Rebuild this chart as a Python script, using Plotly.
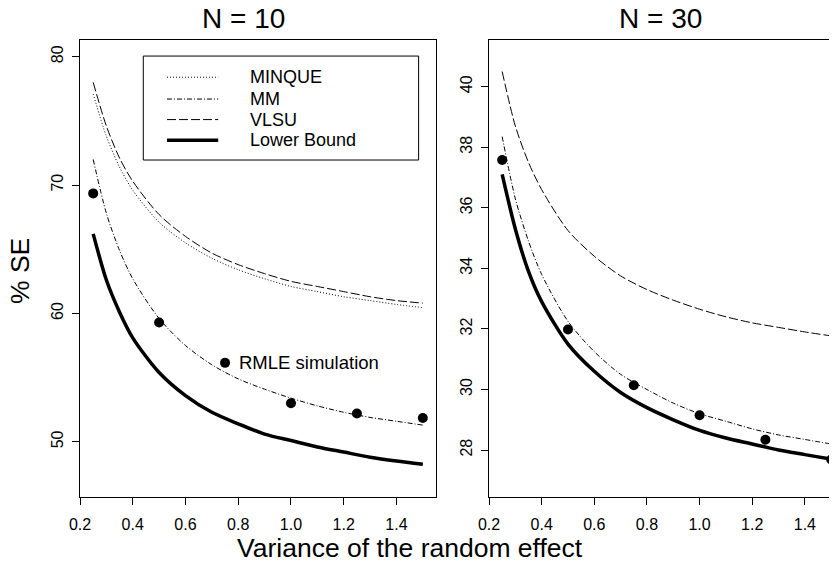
import plotly.graph_objects as go

# variance of the random effect
var_grid = [0.25, 0.30, 0.35, 0.40, 0.50, 0.60, 0.70, 0.80, 0.90, 1.00, 1.10, 1.20, 1.30, 1.40, 1.50]
var_sim = [0.25, 0.50, 0.75, 1.00, 1.25, 1.50]

# N = 10
minque_10 = [77.1, 73.8, 71.4, 69.6, 67.1, 65.5, 64.3, 63.4, 62.7, 62.1, 61.7, 61.3, 61.0, 60.7, 60.45]
mm_10 = [72.0, 67.8, 64.9, 62.7, 59.6, 57.5, 56.0, 54.9, 54.1, 53.4, 52.8, 52.3, 51.9, 51.6, 51.3]
vlsu_10 = [78.0, 74.6, 72.1, 70.3, 67.7, 66.0, 64.7, 63.8, 63.1, 62.5, 62.1, 61.7, 61.3, 61.0, 60.8]
lower_10 = [66.2, 62.6, 60.1, 58.1, 55.4, 53.6, 52.3, 51.4, 50.6, 50.1, 49.6, 49.2, 48.8, 48.5, 48.25]
rmle_10 = [69.35, 59.3, 56.15, 53.0, 52.2, 51.85]

# N = 30
mm_30 = [38.35, 36.3, 34.9, 33.8, 32.25, 31.25, 30.5, 30.0, 29.55, 29.2, 28.95, 28.7, 28.5, 28.35, 28.2]
vlsu_30 = [40.5, 38.7, 37.5, 36.6, 35.25, 34.4, 33.75, 33.3, 32.95, 32.65, 32.4, 32.2, 32.05, 31.9, 31.77]
lower_30 = [37.1, 35.3, 33.9, 32.9, 31.5, 30.6, 29.9, 29.4, 29.0, 28.65, 28.4, 28.2, 28.0, 27.85, 27.7]
rmle_30 = [37.58, 31.98, 30.14, 29.15, 28.34, 27.69]

legend_names = ["MINQUE", "MM", "VLSU", "Lower Bound"]

FONT = "Liberation Sans, Arial, sans-serif"
styles = {
    "MINQUE": dict(color="black", width=1, dash="1px,2px"),
    "MM": dict(color="black", width=1, dash="5px,2px,1px,2px"),
    "VLSU": dict(color="black", width=1, dash="9px,3px"),
    "Lower Bound": dict(color="black", width=3.5),
}

fig = go.Figure()

def add_curve(y, name, xa, ya):
    fig.add_trace(go.Scatter(x=var_grid, y=y, mode="lines", name=name,
                             line=dict(shape="spline", smoothing=0.8, **styles[name]),
                             xaxis=xa, yaxis=ya, showlegend=False))

add_curve(minque_10, "MINQUE", "x", "y")
add_curve(mm_10, "MM", "x", "y")
add_curve(vlsu_10, "VLSU", "x", "y")
add_curve(lower_10, "Lower Bound", "x", "y")
fig.add_trace(go.Scatter(x=var_sim, y=rmle_10, mode="markers", name="RMLE simulation",
                         marker=dict(color="black", size=10), cliponaxis=False,
                         xaxis="x", yaxis="y", showlegend=False))

add_curve(mm_30, "MM", "x2", "y2")
add_curve(vlsu_30, "VLSU", "x2", "y2")
add_curve(lower_30, "Lower Bound", "x2", "y2")
fig.add_trace(go.Scatter(x=var_sim, y=rmle_30, mode="markers", name="RMLE simulation",
                         marker=dict(color="black", size=10), cliponaxis=False,
                         xaxis="x2", yaxis="y2", showlegend=False))

axis_common = dict(showgrid=False, zeroline=False, showline=True, linecolor="black", linewidth=1,
                   ticks="outside", ticklen=7, tickcolor="black", automargin=False,
                   tickfont=dict(family=FONT, size=16, color="black"))
xticks = [0.2, 0.4, 0.6, 0.8, 1.0, 1.2, 1.4]

# the page body adds an 8px margin, so the figure is 8px smaller than the window
fig.update_layout(
    width=829, height=556,
    margin=dict(l=72, r=0, t=32, b=67),
    paper_bgcolor="white", plot_bgcolor="white",
    xaxis=dict(domain=[0, 0.4703], range=[0.2, 1.55], tickvals=xticks, tickformat=".1f",
               mirror=True, ticklabelstandoff=6, **axis_common),
    yaxis=dict(domain=[0, 1], range=[45.7, 81.3], tickvals=[50, 60, 70, 80], tickangle=-90,
               mirror=True, ticklabelstandoff=3, **axis_common),
    xaxis2=dict(domain=[0.5403, 1], range=[0.2, 1.522], tickvals=xticks, tickformat=".1f",
                mirror=True, anchor="y2", ticklabelstandoff=6, **axis_common),
    yaxis2=dict(domain=[0, 1], range=[26.45, 41.54], tickvals=[28, 30, 32, 34, 36, 38, 40],
                tickangle=-90, anchor="x2", ticklabelstandoff=3, **axis_common),
    showlegend=False,
)

# hand-drawn legend box inside the left panel
fig.add_shape(type="rect", xref="x", yref="y", x0=0.44, x1=1.484, y0=71.95, y1=80.05,
              line=dict(color="black", width=1), fillcolor="white", layer="above")
leg_y = [78.4, 76.7, 75.1, 73.5]
for name, yy in zip(legend_names, leg_y):
    fig.add_shape(type="line", xref="x", yref="y", x0=0.53, x1=0.724, y0=yy, y1=yy,
                  line=styles[name], layer="above")
    fig.add_annotation(x=0.838, y=yy, xref="x", yref="y", text=name, showarrow=False,
                       xanchor="left", yanchor="middle",
                       font=dict(family=FONT, size=18, color="black"))

fig.add_annotation(x=0.795, y=56.15, xref="x", yref="y", text="RMLE simulation", showarrow=False,
                   xanchor="left", yanchor="middle", font=dict(family=FONT, size=18.5, color="black"))

# panel titles and shared axis labels
title_font = dict(family=FONT, size=28, color="black")
label_font = dict(family=FONT, size=26.5, color="black")
fig.add_annotation(x=0.2164, y=1.0475, xref="paper", yref="paper", text="N = 10", showarrow=False,
                   xanchor="center", yanchor="middle", font=title_font)
fig.add_annotation(x=0.7662, y=1.0475, xref="paper", yref="paper", text="N = 30", showarrow=False,
                   xanchor="center", yanchor="middle", font=title_font)
fig.add_annotation(x=-0.0793, y=0.4945, xref="paper", yref="paper", text="% SE", showarrow=False,
                   textangle=-90, xanchor="center", yanchor="middle", font=label_font)
fig.add_annotation(x=0.4359, y=-0.1116, xref="paper", yref="paper", text="Variance of the random effect",
                   showarrow=False, xanchor="center", yanchor="middle", font=label_font)

fig.write_html("out.html")
